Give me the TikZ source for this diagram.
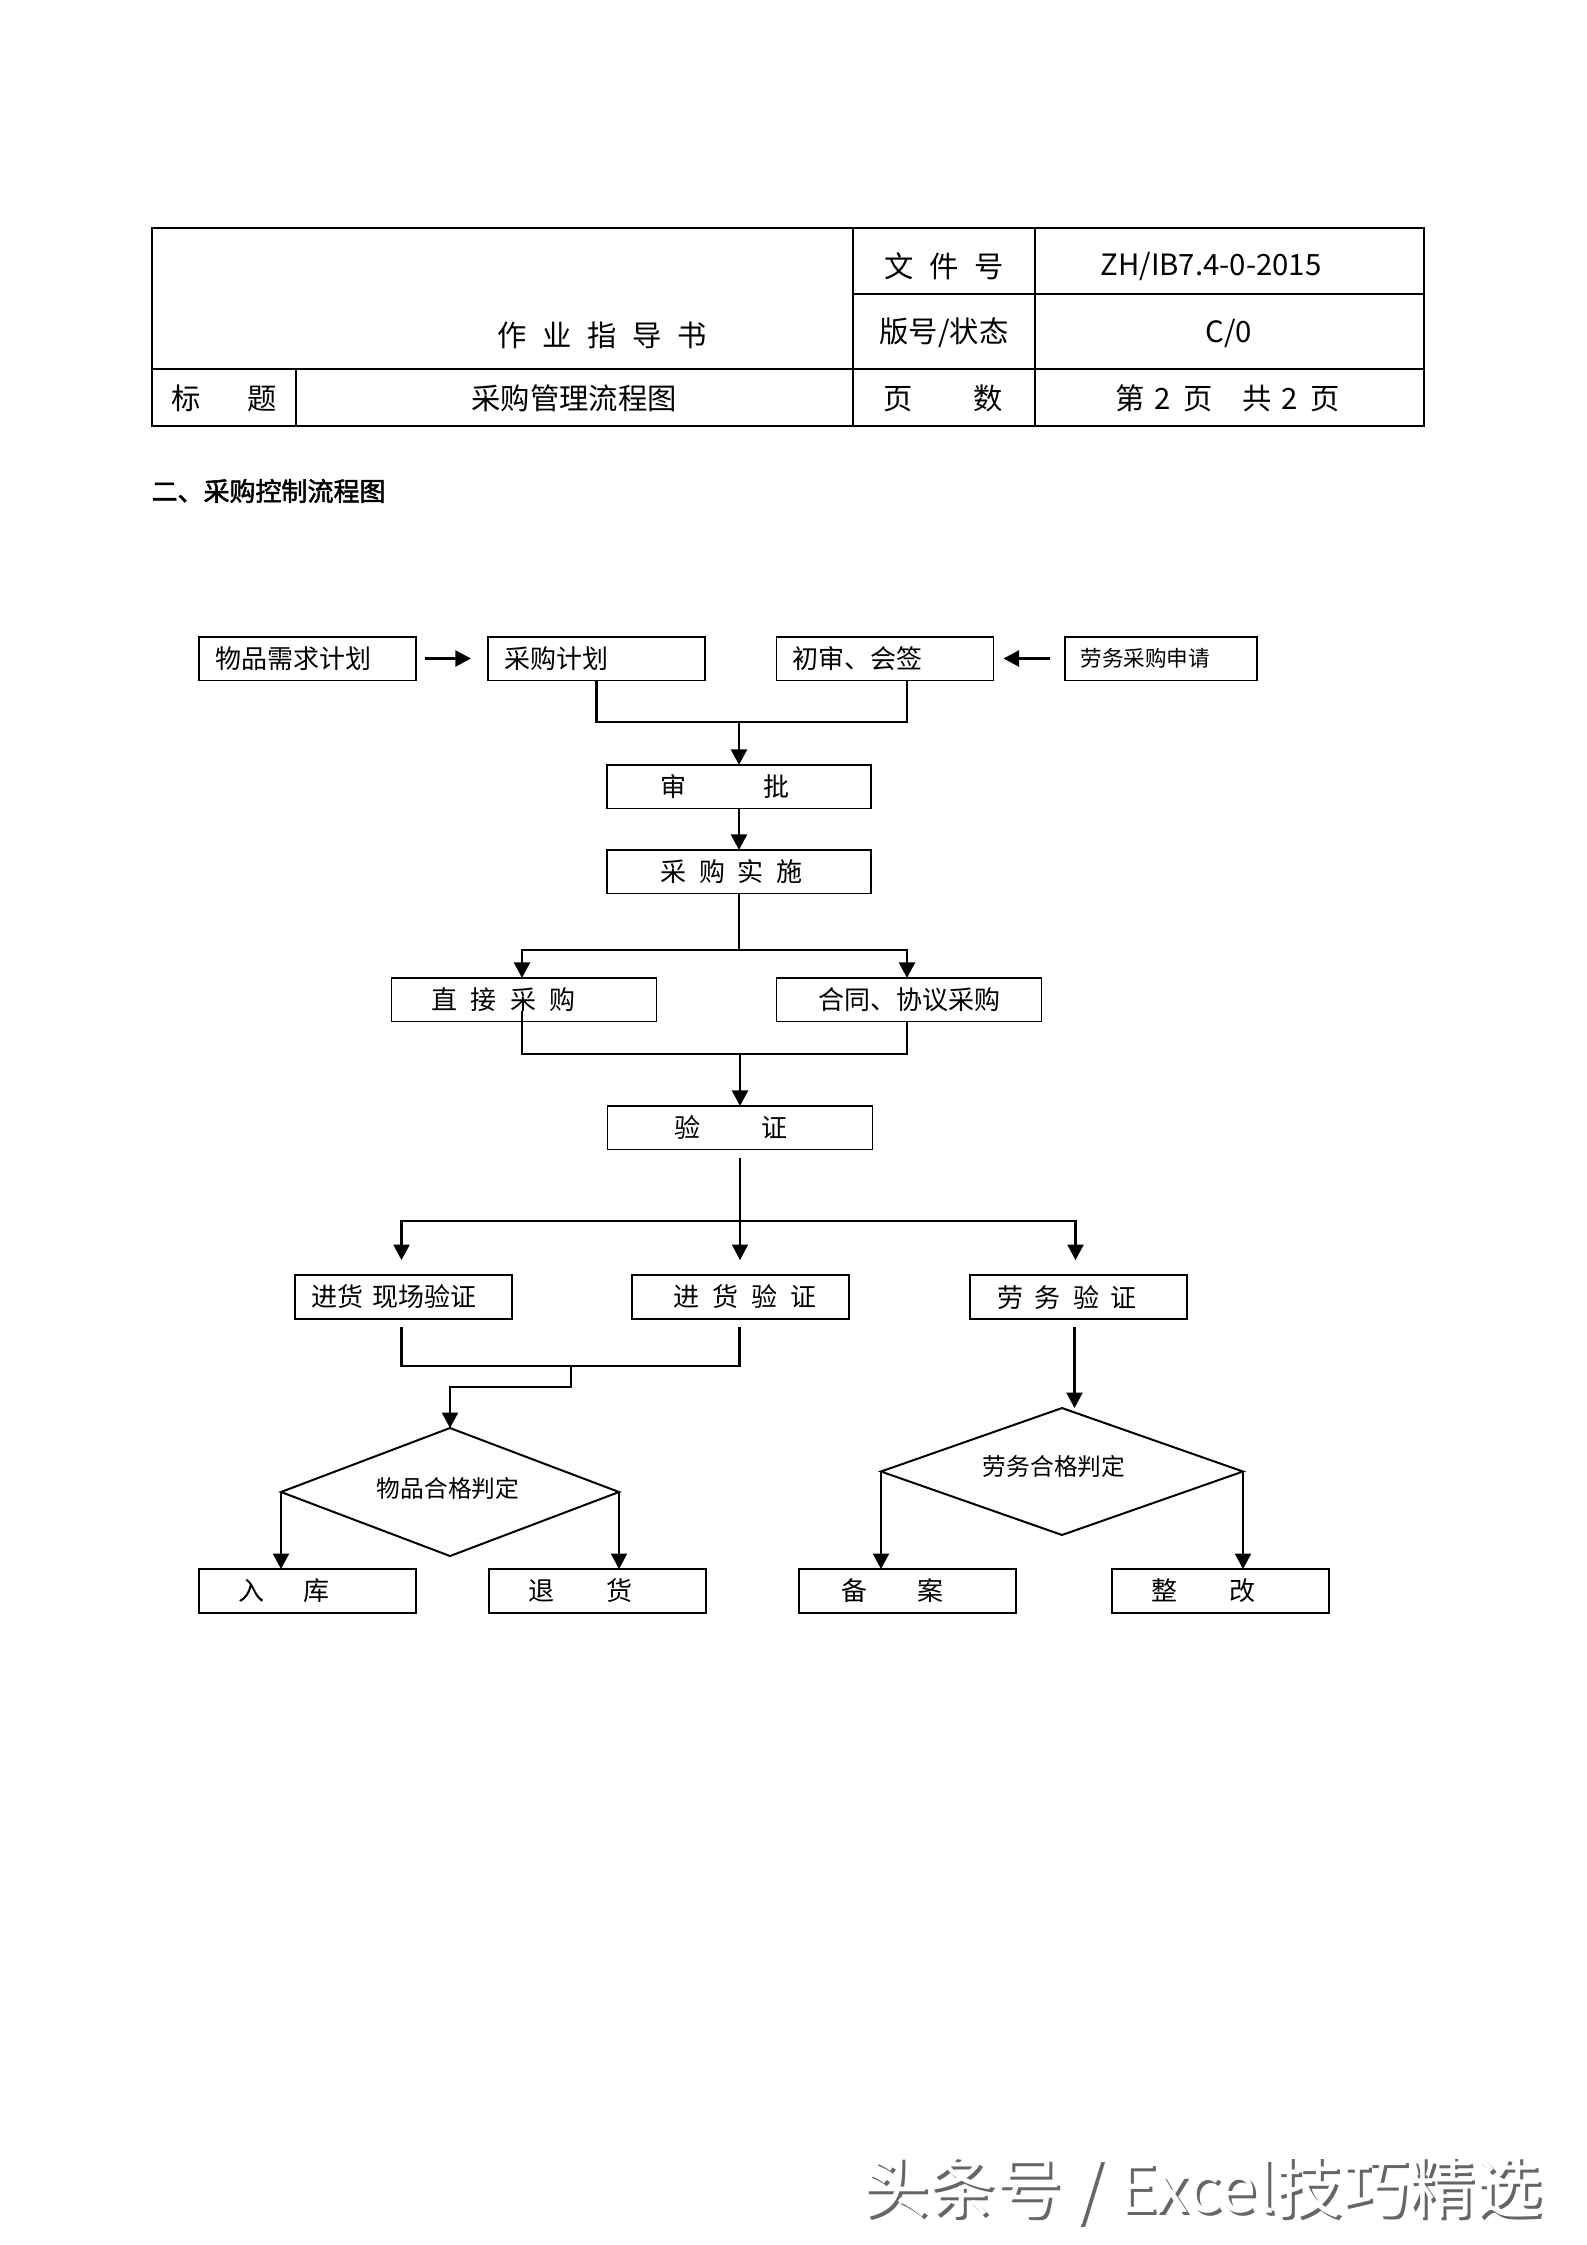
\documentclass[tikz,border=0pt]{standalone}
\usepackage{fontspec}
\setmainfont{Noto Sans CJK SC}
\newfontfamily\hdfont[FakeBold=2]{Noto Sans CJK SC}
\usetikzlibrary{arrows.meta,shapes.geometric,calc}
\begin{document}
\begin{tikzpicture}[x=0.375pt,y=-0.375pt,
  tbl/.style={line width=0.8pt},
  box/.style={draw, line width=0.45pt, inner sep=0pt, outer sep=0pt, minimum height=16.2pt},
  wa/.style={minimum width=81.4pt},
  wb/.style={minimum width=99.5pt},
  dia/.style={draw, diamond, line width=0.75pt, inner sep=0pt, outer sep=0pt},
  conn/.style={line width=0.85pt},
  arr/.style={line width=0.85pt, -{Triangle[length=5.8pt,width=6pt]}},
  tt/.style={inner sep=0pt, font=\fontsize{11pt}{13pt}\selectfont},
  ft/.style={inner sep=0pt, font=\fontsize{9.75pt}{12pt}\selectfont},
  fs/.style={inner sep=0pt, font=\fontsize{8.1pt}{10pt}\selectfont},
  fd/.style={inner sep=0pt, font=\fontsize{8.9pt}{11pt}\selectfont},
  wm/.style={inner sep=0pt, font=\fontsize{25pt}{30pt}\selectfont}]
\useasboundingbox (0,0) rectangle (1587,2245);
\fill[white] (0,0) rectangle (1587,2245);

% ---------- header table ----------
\draw[tbl] (152,228) rectangle (1424,426);
\draw[tbl] (853,228) -- (853,426);
\draw[tbl] (1035,228) -- (1035,426);
\draw[tbl] (853,294) -- (1424,294);
\draw[tbl] (152,369) -- (1424,369);
\draw[tbl] (296,369) -- (296,426);
\node[tt] (t1) at (602,335) {作\hspace{5.9pt}业\hspace{5.9pt}指\hspace{5.9pt}导\hspace{5.9pt}书};
\node[tt] (t2) at (944,266) {文\hspace{5.8pt}件\hspace{5.8pt}号};
\node[tt] (t3) at (1211,266) {ZH/IB7.4-0-2015};
\node[tt] (t4) at (944,333) {版号/状态};
\node[tt] (t5) at (1229,333) {C/0};
\node[tt] (t6) at (224,398) {标\hspace{17.6pt}题};
\node[tt] (t7) at (574,398) {采购管理流程图};
\node[tt] (t8) at (943,398) {页\hspace{22.9pt}数};
\node[tt] (t9) at (1228,398) {第\hspace{3.5pt}2\hspace{5pt}页\hspace{11pt}共\hspace{3.5pt}2\hspace{5pt}页};

\node[anchor=west, inner sep=0pt, font=\hdfont\fontsize{9.75pt}{12pt}\selectfont] (hd) at (151,491) {二、采购控制流程图};

% ---------- boxes ----------
\node[box,wa] (b1) at (307.5,658.5) {};
\node[box,wa] (b2) at (596.5,658.5) {};
\node[box,wa] (b3) at (885,658.5) {};
\node[box,minimum width=72pt] (b4) at (1161,658.5) {};
\node[box,minimum width=99pt] (sp) at (739,786.5) {};
\node[box,minimum width=99pt] (ss) at (739,871.5) {};
\node[box,wb] (zj) at (524,999.5) {};
\node[box,wb] (ht) at (909,999.5) {};
\node[box,wb] (yz) at (740,1127.5) {};
\node[box,wa,minimum height=16.5pt] (xc) at (403.5,1297) {};
\node[box,wa,minimum height=16.5pt] (jh) at (740.5,1297) {};
\node[box,wa,minimum height=16.5pt] (lw) at (1078.5,1297) {};
\node[box,wa,minimum height=16.5pt] (rk) at (307.5,1591) {};
\node[box,wa,minimum height=16.5pt] (th) at (597.5,1591) {};
\node[box,wa,minimum height=16.5pt] (ba) at (907.5,1591) {};
\node[box,wa,minimum height=16.5pt] (zg) at (1220.5,1591) {};
\node[dia, minimum width=126.75pt, minimum height=48pt] (d1) at (450,1492) {};
\node[dia, minimum width=135.75pt, minimum height=47.6pt] (d2) at (1062,1471.5) {};

% ---------- texts ----------
\node[ft,anchor=west] (b1t) at (215,658.5) {物品需求计划};
\node[ft,anchor=west] (b2t) at (504,658.5) {采购计划};
\node[ft,anchor=west] (b3t) at (792,658.5) {初审、会签};
\node[fs,anchor=west] (b4t) at (1080,658.5) {劳务采购申请};
\node[ft] (spt) at (725,786.5) {审\hspace{29pt}批};
\node[ft] (sst) at (731.5,871.5) {采\hspace{4.7pt}购\hspace{4.7pt}实\hspace{4.7pt}施};
\node[ft] (zjt) at (503.5,999.5) {直\hspace{4.9pt}接\hspace{4.9pt}采\hspace{4.9pt}购};
\node[ft] (htt) at (909.5,999.5) {合同、协议采购};
\node[ft] (yzt) at (731,1127.5) {验\hspace{23pt}证};
\node[ft,anchor=west] (xct) at (311,1297) {进货\hspace{3.5pt}现场验证};
\node[ft] (jht) at (745,1297) {进\hspace{4.8pt}货\hspace{4.8pt}验\hspace{4.8pt}证};
\node[ft] (lwt) at (1067,1297) {劳\hspace{4.5pt}务\hspace{4.5pt}验\hspace{4.5pt}证};
\node[fd] (d1t) at (448,1488) {物品合格判定};
\node[fd] (d2t) at (1054,1466) {劳务合格判定};
\node[ft] (rkt) at (284,1591) {入\hspace{14.3pt}库};
\node[ft] (tht) at (580,1591) {退\hspace{19.5pt}货};
\node[ft] (bat) at (892.5,1591) {备\hspace{19pt}案};
\node[ft] (zgt) at (1203,1591) {整\hspace{19.5pt}改};

% ---------- connectors ----------
\draw[arr, shorten <=3.4pt, shorten >=6.4pt] (b1) -- (b2);
\draw[arr, shorten <=5.6pt, shorten >=3.75pt] (b4) -- (b3);
\coordinate (m1) at (739,722);
\draw[conn] (b2.south) |- (m1) -| ($(b3.south)+(22,0)$);
\draw[arr] (m1) -- (sp);
\draw[arr] (sp) -- (ss);
\coordinate (m2) at (739,950);
\draw[conn] (ss) -- (m2);
\draw[arr] (m2) -| ($(zj.north)+(-2,0)$);
\draw[arr] (m2) -| ($(ht.north)+(-2,0)$);
\coordinate (m3) at (740,1054);
\draw[conn] ($(zj.south)+(-2,-10)$) |- (m3) -| ($(ht.south)+(-2,0)$);
\draw[arr] (m3) -- (yz);
\coordinate (m4) at (740,1221);
\coordinate (yzo) at ($(yz.south)+(0,9)$);
\draw[arr, line width=0.5pt, shorten >=5.6pt] (yzo) -- (yzo |- jh.north);
\draw[arr, shorten >=5.6pt] (m4) -| ($(xc.north)+(-2,0)$);
\draw[arr, shorten >=5.6pt] (m4) -| ($(lw.north)+(-3,0)$);
\coordinate (m5) at (571,1366);
\draw[conn] ($(xc.south)+(-2,8)$) |- ($(jh.south)+(-1,47)$) -- ($(jh.south)+(-1,8)$);
\draw[arr] (m5) -- ++(0,21) -| (d1.north);
\coordinate (lwo) at ($(lw.south)+(-4,8)$);
\draw[arr] (lwo) -- (lwo |- d2.north);
\draw[arr] (d1.west) -- (d1.west |- rk.north);
\draw[arr] (d1.east) -- (d1.east |- th.north);
\draw[arr] (d2.west) -- (d2.west |- ba.north);
\draw[arr] (d2.east) -- (d2.east |- zg.north);

% ---------- watermark ----------
\node[wm, text=black!60] (wms) at (1205,2193) {头条号 / Excel技巧精选};
\node[wm, text=white] (wmt) at (1202,2190) {头条号 / Excel技巧精选};
\end{tikzpicture}
\end{document}
